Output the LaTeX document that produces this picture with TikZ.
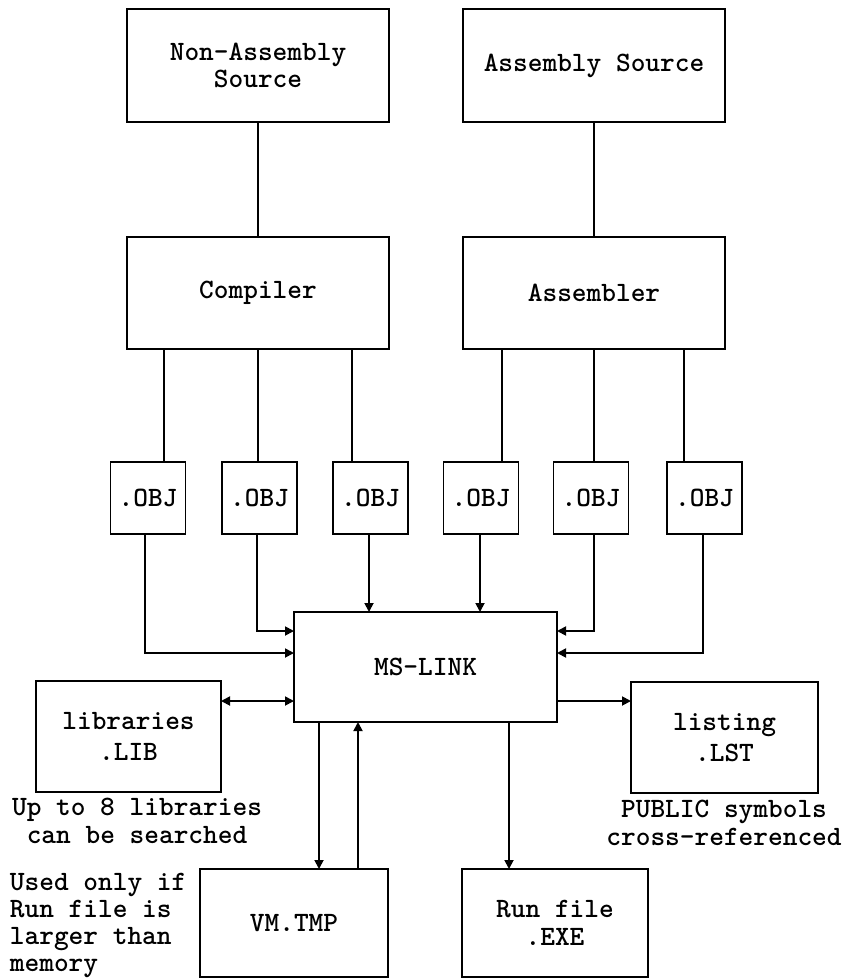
\documentclass[tikz,border=0pt]{standalone}
\usetikzlibrary{arrows.meta}
\begin{document}
\begin{tikzpicture}[x=1pt,y=-1pt,
  line width=1.8pt,
  txt/.style={font=\ttfamily\bfseries\fontsize{28}{27.5}\selectfont},
  box/.style={draw, txt, line width=1.8pt, inner sep=0pt, outer sep=0pt, align=center},
  obj/.style={box, minimum width=75, minimum height=72},
  big/.style={box, minimum width=262, minimum height=113},
  mid/.style={box, minimum width=186, minimum height=111},
  lbl/.style={txt, inner sep=0pt, align=center},
  tip/.tip={Triangle[length=9pt,width=9pt]},
  arr/.style={-tip},
  darr/.style={tip-tip}]
\useasboundingbox (0,0) rectangle (845,979);

% boxes
\node[big] (nas) at (258,65.5) {Non-Assembly\\Source};
\node[big] (as) at (594,65.5) {Assembly Source};
\node[big, minimum height=112] (comp) at (258,293) {Compiler};
\node[big, minimum height=112] (asm) at (594,293) {Assembler};
\node[obj] (o1) at (148,498) {.OBJ};
\node[obj] (o2) at (259.5,498) {.OBJ};
\node[obj] (o3) at (370.5,498) {.OBJ};
\node[obj] (o4) at (481,498) {.OBJ};
\node[obj] (o5) at (591,498) {.OBJ};
\node[obj] (o6) at (704.5,498) {.OBJ};
\node[big, minimum width=263, minimum height=110] (link) at (425.5,667) {MS-LINK};
\node[mid, minimum width=185] (lib) at (128.5,736.5) {libraries\\[3pt].LIB};
\node[mid, minimum width=187] (lst) at (724.5,737.5) {listing\\[4pt].LST};
\node[mid, minimum width=188, minimum height=108] (vm) at (294,923) {VM.TMP};
\node[mid, minimum height=108] (run) at (555,923) {Run file\\.EXE};

% notes
\node[lbl] (n1) at (137,821) {Up to 8 libraries\\can be searched};
\node[lbl] (n2) at (724,823) {PUBLIC symbols\\cross-referenced};
\node[lbl, align=left, anchor=west, font=\ttfamily\bfseries\fontsize{28}{27}\selectfont] (n3) at (9,925) {Used only if\\Run file is\\larger than\\memory};

% helper coordinates
\coordinate (c1) at (164,0);
\coordinate (c2) at (258,0);
\coordinate (c3) at (352,0);
\coordinate (c4) at (502,0);
\coordinate (c5) at (594,0);
\coordinate (c6) at (684,0);
\coordinate (b1) at (145,0);
\coordinate (b2) at (257,0);
\coordinate (b3) at (369,0);
\coordinate (b4) at (480,0);
\coordinate (b5) at (594,0);
\coordinate (b6) at (703,0);
\coordinate (yA) at (0,631);
\coordinate (yB) at (0,653);
\coordinate (yL) at (0,701);
\coordinate (v1) at (319,0);
\coordinate (v2) at (358,0);
\coordinate (r1) at (509,0);

% connectors
\draw (nas.south) -- (comp.north);
\draw (as.south) -- (asm.north);
\draw (comp.south -| c1) -- (o1.north -| c1);
\draw (comp.south -| c2) -- (o2.north -| c2);
\draw (comp.south -| c3) -- (o3.north -| c3);
\draw (asm.south -| c4) -- (o4.north -| c4);
\draw (asm.south -| c5) -- (o5.north -| c5);
\draw (asm.south -| c6) -- (o6.north -| c6);

\draw[arr] (o1.south -| b1) |- (link.west |- yB);
\draw[arr] (o2.south -| b2) |- (link.west |- yA);
\draw[arr] (o3.south -| b3) -- (link.north -| b3);
\draw[arr] (o4.south -| b4) -- (link.north -| b4);
\draw[arr] (o5.south -| b5) |- (link.east |- yA);
\draw[arr] (o6.south -| b6) |- (link.east |- yB);

\draw[darr] (lib.east |- yL) -- (link.west |- yL);
\draw[arr] (link.east |- yL) -- (lst.west |- yL);
\draw[arr] (link.south -| v1) -- (vm.north -| v1);
\draw[arr] (vm.north -| v2) -- (link.south -| v2);
\draw[arr] (link.south -| r1) -- (run.north -| r1);
\end{tikzpicture}
\end{document}
